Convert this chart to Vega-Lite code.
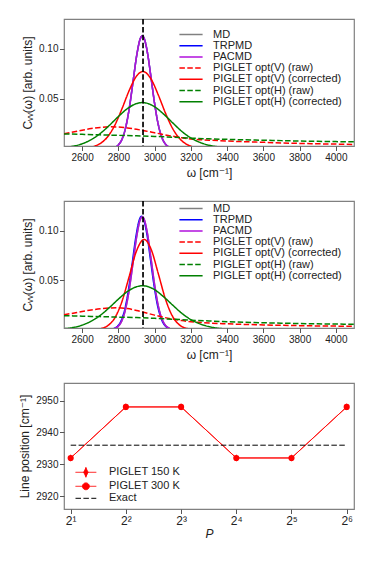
{
"$schema": "https://vega.github.io/schema/vega-lite/v6.json",
"background": "white",
"padding": {"left": 18, "top": 17, "right": 10, "bottom": 10},
"bounds": "flush",
"spacing": 55,
"resolve": {"scale": {"color": "independent", "strokeDash": "independent", "shape": "independent", "strokeWidth": "independent"}, "legend": {"color": "independent", "strokeDash": "independent", "shape": "independent", "strokeWidth": "independent"}},
"config": {
  "font": "Liberation Sans",
  "view": {"stroke": "#808080", "strokeWidth": 1.2},
  "axis": {"grid": false, "domain": false, "tickColor": "#555555", "tickSize": 4.5, "tickWidth": 1, "labelFontSize": 10, "labelColor": "#222222", "titleColor": "#222222", "titleFontSize": 12, "titleFontWeight": "normal", "labelPadding": 1.5, "titlePadding": 4, "labelFont": "Liberation Sans", "titleFont": "Liberation Sans, DejaVu Sans, sans-serif"},
  "legend": {"labelColor": "#222222", "labelFont": "Liberation Sans", "padding": 0}
},
"datasets": {
 "s150": [
  {"s":"MD","w":2760,"c":0.0003},{"s":"MD","w":2780,"c":0.0011},{"s":"MD","w":2800,"c":0.0035},{"s":"MD","w":2820,"c":0.0092},{"s":"MD","w":2840,"c":0.0208},{"s":"MD","w":2860,"c":0.0401},{"s":"MD","w":2880,"c":0.0658},{"s":"MD","w":2900,"c":0.0921},{"s":"MD","w":2920,"c":0.1098},{"s":"MD","w":2932,"c":0.113},{"s":"MD","w":2940,"c":0.1115},{"s":"MD","w":2960,"c":0.0966},{"s":"MD","w":2980,"c":0.0713},{"s":"MD","w":3000,"c":0.0449},{"s":"MD","w":3020,"c":0.024},{"s":"MD","w":3040,"c":0.011},{"s":"MD","w":3060,"c":0.0043},{"s":"MD","w":3080,"c":0.0014},{"s":"MD","w":3100,"c":0.0004},
  {"s":"TRPMD","w":2760,"c":0.0003},{"s":"TRPMD","w":2780,"c":0.0011},{"s":"TRPMD","w":2800,"c":0.0035},{"s":"TRPMD","w":2820,"c":0.0092},{"s":"TRPMD","w":2840,"c":0.0208},{"s":"TRPMD","w":2860,"c":0.0401},{"s":"TRPMD","w":2880,"c":0.0658},{"s":"TRPMD","w":2900,"c":0.0921},{"s":"TRPMD","w":2920,"c":0.1098},{"s":"TRPMD","w":2932,"c":0.113},{"s":"TRPMD","w":2940,"c":0.1115},{"s":"TRPMD","w":2960,"c":0.0966},{"s":"TRPMD","w":2980,"c":0.0713},{"s":"TRPMD","w":3000,"c":0.0449},{"s":"TRPMD","w":3020,"c":0.024},{"s":"TRPMD","w":3040,"c":0.011},{"s":"TRPMD","w":3060,"c":0.0043},{"s":"TRPMD","w":3080,"c":0.0014},{"s":"TRPMD","w":3100,"c":0.0004},
  {"s":"PACMD","w":2760,"c":0.0003},{"s":"PACMD","w":2780,"c":0.0011},{"s":"PACMD","w":2800,"c":0.0035},{"s":"PACMD","w":2820,"c":0.0092},{"s":"PACMD","w":2840,"c":0.0208},{"s":"PACMD","w":2860,"c":0.0401},{"s":"PACMD","w":2880,"c":0.0658},{"s":"PACMD","w":2900,"c":0.0921},{"s":"PACMD","w":2920,"c":0.1098},{"s":"PACMD","w":2932,"c":0.113},{"s":"PACMD","w":2940,"c":0.1115},{"s":"PACMD","w":2960,"c":0.0966},{"s":"PACMD","w":2980,"c":0.0713},{"s":"PACMD","w":3000,"c":0.0449},{"s":"PACMD","w":3020,"c":0.024},{"s":"PACMD","w":3040,"c":0.011},{"s":"PACMD","w":3060,"c":0.0043},{"s":"PACMD","w":3080,"c":0.0014},{"s":"PACMD","w":3100,"c":0.0004},
  {"s":"PIGLET opt(V) (raw)","w":2500,"c":0.0148},{"s":"PIGLET opt(V) (raw)","w":2550,"c":0.0165},{"s":"PIGLET opt(V) (raw)","w":2600,"c":0.0183},{"s":"PIGLET opt(V) (raw)","w":2650,"c":0.0199},{"s":"PIGLET opt(V) (raw)","w":2700,"c":0.0211},{"s":"PIGLET opt(V) (raw)","w":2750,"c":0.0217},{"s":"PIGLET opt(V) (raw)","w":2800,"c":0.0215},{"s":"PIGLET opt(V) (raw)","w":2850,"c":0.0206},{"s":"PIGLET opt(V) (raw)","w":2900,"c":0.0192},{"s":"PIGLET opt(V) (raw)","w":2950,"c":0.0175},{"s":"PIGLET opt(V) (raw)","w":3000,"c":0.0157},{"s":"PIGLET opt(V) (raw)","w":3050,"c":0.0139},{"s":"PIGLET opt(V) (raw)","w":3100,"c":0.0122},{"s":"PIGLET opt(V) (raw)","w":3150,"c":0.0107},{"s":"PIGLET opt(V) (raw)","w":3200,"c":0.0095},{"s":"PIGLET opt(V) (raw)","w":3300,"c":0.0083},{"s":"PIGLET opt(V) (raw)","w":3400,"c":0.0074},{"s":"PIGLET opt(V) (raw)","w":3500,"c":0.0067},{"s":"PIGLET opt(V) (raw)","w":3600,"c":0.0061},{"s":"PIGLET opt(V) (raw)","w":3700,"c":0.0055},{"s":"PIGLET opt(V) (raw)","w":3800,"c":0.005},{"s":"PIGLET opt(V) (raw)","w":3900,"c":0.0046},{"s":"PIGLET opt(V) (raw)","w":4000,"c":0.0043},{"s":"PIGLET opt(V) (raw)","w":4100,"c":0.004},
  {"s":"PIGLET opt(V) (corrected)","w":2620,"c":0.0005},{"s":"PIGLET opt(V) (corrected)","w":2660,"c":0.0018},{"s":"PIGLET opt(V) (corrected)","w":2700,"c":0.0049},{"s":"PIGLET opt(V) (corrected)","w":2740,"c":0.0115},{"s":"PIGLET opt(V) (corrected)","w":2780,"c":0.0232},{"s":"PIGLET opt(V) (corrected)","w":2820,"c":0.0399},{"s":"PIGLET opt(V) (corrected)","w":2860,"c":0.0583},{"s":"PIGLET opt(V) (corrected)","w":2900,"c":0.0726},{"s":"PIGLET opt(V) (corrected)","w":2935,"c":0.0772},{"s":"PIGLET opt(V) (corrected)","w":2980,"c":0.0698},{"s":"PIGLET opt(V) (corrected)","w":3020,"c":0.0538},{"s":"PIGLET opt(V) (corrected)","w":3060,"c":0.0354},{"s":"PIGLET opt(V) (corrected)","w":3100,"c":0.0198},{"s":"PIGLET opt(V) (corrected)","w":3140,"c":0.0094},{"s":"PIGLET opt(V) (corrected)","w":3180,"c":0.0038},{"s":"PIGLET opt(V) (corrected)","w":3220,"c":0.0013},{"s":"PIGLET opt(V) (corrected)","w":3260,"c":0.0004},
  {"s":"PIGLET opt(H) (raw)","w":2500,"c":0.0145},{"s":"PIGLET opt(H) (raw)","w":2600,"c":0.0141},{"s":"PIGLET opt(H) (raw)","w":2700,"c":0.0136},{"s":"PIGLET opt(H) (raw)","w":2800,"c":0.0131},{"s":"PIGLET opt(H) (raw)","w":2900,"c":0.0126},{"s":"PIGLET opt(H) (raw)","w":3000,"c":0.012},{"s":"PIGLET opt(H) (raw)","w":3100,"c":0.0112},{"s":"PIGLET opt(H) (raw)","w":3200,"c":0.0103},{"s":"PIGLET opt(H) (raw)","w":3300,"c":0.0096},{"s":"PIGLET opt(H) (raw)","w":3400,"c":0.0091},{"s":"PIGLET opt(H) (raw)","w":3500,"c":0.0086},{"s":"PIGLET opt(H) (raw)","w":3600,"c":0.0082},{"s":"PIGLET opt(H) (raw)","w":3700,"c":0.0078},{"s":"PIGLET opt(H) (raw)","w":3800,"c":0.0074},{"s":"PIGLET opt(H) (raw)","w":3900,"c":0.0071},{"s":"PIGLET opt(H) (raw)","w":4000,"c":0.0068},{"s":"PIGLET opt(H) (raw)","w":4100,"c":0.0066},
  {"s":"PIGLET opt(H) (corrected)","w":2500,"c":0.001},{"s":"PIGLET opt(H) (corrected)","w":2550,"c":0.0022},{"s":"PIGLET opt(H) (corrected)","w":2600,"c":0.0046},{"s":"PIGLET opt(H) (corrected)","w":2650,"c":0.0088},{"s":"PIGLET opt(H) (corrected)","w":2700,"c":0.015},{"s":"PIGLET opt(H) (corrected)","w":2750,"c":0.0231},{"s":"PIGLET opt(H) (corrected)","w":2800,"c":0.032},{"s":"PIGLET opt(H) (corrected)","w":2850,"c":0.04},{"s":"PIGLET opt(H) (corrected)","w":2900,"c":0.045},{"s":"PIGLET opt(H) (corrected)","w":2932,"c":0.046},{"s":"PIGLET opt(H) (corrected)","w":2950,"c":0.0457},{"s":"PIGLET opt(H) (corrected)","w":3000,"c":0.0418},{"s":"PIGLET opt(H) (corrected)","w":3050,"c":0.0344},{"s":"PIGLET opt(H) (corrected)","w":3100,"c":0.0256},{"s":"PIGLET opt(H) (corrected)","w":3150,"c":0.0171},{"s":"PIGLET opt(H) (corrected)","w":3200,"c":0.0105},{"s":"PIGLET opt(H) (corrected)","w":3250,"c":0.006},{"s":"PIGLET opt(H) (corrected)","w":3300,"c":0.0032},{"s":"PIGLET opt(H) (corrected)","w":3350,"c":0.0016},{"s":"PIGLET opt(H) (corrected)","w":3400,"c":0.0007}
 ],
 "s300": [
  {"s":"MD","w":2760,"c":0.0003},{"s":"MD","w":2780,"c":0.0011},{"s":"MD","w":2800,"c":0.0035},{"s":"MD","w":2820,"c":0.0093},{"s":"MD","w":2840,"c":0.021},{"s":"MD","w":2860,"c":0.0405},{"s":"MD","w":2880,"c":0.0664},{"s":"MD","w":2900,"c":0.0929},{"s":"MD","w":2920,"c":0.1108},{"s":"MD","w":2932,"c":0.114},{"s":"MD","w":2940,"c":0.1125},{"s":"MD","w":2960,"c":0.0975},{"s":"MD","w":2980,"c":0.0719},{"s":"MD","w":3000,"c":0.0453},{"s":"MD","w":3020,"c":0.0242},{"s":"MD","w":3040,"c":0.0111},{"s":"MD","w":3060,"c":0.0043},{"s":"MD","w":3080,"c":0.0014},{"s":"MD","w":3100,"c":0.0004},
  {"s":"TRPMD","w":2756,"c":0.0003},{"s":"TRPMD","w":2776,"c":0.0011},{"s":"TRPMD","w":2796,"c":0.0035},{"s":"TRPMD","w":2816,"c":0.0093},{"s":"TRPMD","w":2836,"c":0.021},{"s":"TRPMD","w":2856,"c":0.0406},{"s":"TRPMD","w":2876,"c":0.0666},{"s":"TRPMD","w":2896,"c":0.0932},{"s":"TRPMD","w":2916,"c":0.1112},{"s":"TRPMD","w":2928,"c":0.1146},{"s":"TRPMD","w":2936,"c":0.113},{"s":"TRPMD","w":2956,"c":0.0979},{"s":"TRPMD","w":2976,"c":0.0722},{"s":"TRPMD","w":2996,"c":0.0455},{"s":"TRPMD","w":3016,"c":0.0243},{"s":"TRPMD","w":3036,"c":0.0111},{"s":"TRPMD","w":3056,"c":0.0043},{"s":"TRPMD","w":3076,"c":0.0014},{"s":"TRPMD","w":3096,"c":0.0004},
  {"s":"PACMD","w":2760,"c":0.0003},{"s":"PACMD","w":2780,"c":0.0011},{"s":"PACMD","w":2800,"c":0.0035},{"s":"PACMD","w":2820,"c":0.0093},{"s":"PACMD","w":2840,"c":0.021},{"s":"PACMD","w":2860,"c":0.0405},{"s":"PACMD","w":2880,"c":0.0664},{"s":"PACMD","w":2900,"c":0.0929},{"s":"PACMD","w":2920,"c":0.1108},{"s":"PACMD","w":2932,"c":0.114},{"s":"PACMD","w":2940,"c":0.1125},{"s":"PACMD","w":2960,"c":0.0975},{"s":"PACMD","w":2980,"c":0.0719},{"s":"PACMD","w":3000,"c":0.0453},{"s":"PACMD","w":3020,"c":0.0242},{"s":"PACMD","w":3040,"c":0.0111},{"s":"PACMD","w":3060,"c":0.0043},{"s":"PACMD","w":3080,"c":0.0014},{"s":"PACMD","w":3100,"c":0.0004},
  {"s":"PIGLET opt(V) (raw)","w":2500,"c":0.015},{"s":"PIGLET opt(V) (raw)","w":2550,"c":0.0166},{"s":"PIGLET opt(V) (raw)","w":2600,"c":0.0183},{"s":"PIGLET opt(V) (raw)","w":2650,"c":0.0198},{"s":"PIGLET opt(V) (raw)","w":2700,"c":0.021},{"s":"PIGLET opt(V) (raw)","w":2750,"c":0.0218},{"s":"PIGLET opt(V) (raw)","w":2800,"c":0.022},{"s":"PIGLET opt(V) (raw)","w":2850,"c":0.0212},{"s":"PIGLET opt(V) (raw)","w":2900,"c":0.0194},{"s":"PIGLET opt(V) (raw)","w":2950,"c":0.017},{"s":"PIGLET opt(V) (raw)","w":3000,"c":0.0146},{"s":"PIGLET opt(V) (raw)","w":3050,"c":0.0124},{"s":"PIGLET opt(V) (raw)","w":3100,"c":0.0106},{"s":"PIGLET opt(V) (raw)","w":3150,"c":0.0091},{"s":"PIGLET opt(V) (raw)","w":3200,"c":0.008},{"s":"PIGLET opt(V) (raw)","w":3300,"c":0.0066},{"s":"PIGLET opt(V) (raw)","w":3400,"c":0.0058},{"s":"PIGLET opt(V) (raw)","w":3500,"c":0.0052},{"s":"PIGLET opt(V) (raw)","w":3600,"c":0.0047},{"s":"PIGLET opt(V) (raw)","w":3700,"c":0.0043},{"s":"PIGLET opt(V) (raw)","w":3800,"c":0.004},{"s":"PIGLET opt(V) (raw)","w":3900,"c":0.0037},{"s":"PIGLET opt(V) (raw)","w":4000,"c":0.0035},{"s":"PIGLET opt(V) (raw)","w":4100,"c":0.0033},
  {"s":"PIGLET opt(V) (corrected)","w":2700,"c":0.0009},{"s":"PIGLET opt(V) (corrected)","w":2740,"c":0.0038},{"s":"PIGLET opt(V) (corrected)","w":2780,"c":0.0117},{"s":"PIGLET opt(V) (corrected)","w":2820,"c":0.0285},{"s":"PIGLET opt(V) (corrected)","w":2860,"c":0.0539},{"s":"PIGLET opt(V) (corrected)","w":2900,"c":0.0795},{"s":"PIGLET opt(V) (corrected)","w":2942,"c":0.0912},{"s":"PIGLET opt(V) (corrected)","w":2980,"c":0.0815},{"s":"PIGLET opt(V) (corrected)","w":3020,"c":0.0567},{"s":"PIGLET opt(V) (corrected)","w":3060,"c":0.0307},{"s":"PIGLET opt(V) (corrected)","w":3100,"c":0.013},{"s":"PIGLET opt(V) (corrected)","w":3140,"c":0.0043},{"s":"PIGLET opt(V) (corrected)","w":3180,"c":0.0011},{"s":"PIGLET opt(V) (corrected)","w":3220,"c":0.0002},
  {"s":"PIGLET opt(H) (raw)","w":2500,"c":0.0141},{"s":"PIGLET opt(H) (raw)","w":2600,"c":0.0136},{"s":"PIGLET opt(H) (raw)","w":2700,"c":0.0131},{"s":"PIGLET opt(H) (raw)","w":2800,"c":0.0126},{"s":"PIGLET opt(H) (raw)","w":2900,"c":0.0121},{"s":"PIGLET opt(H) (raw)","w":3000,"c":0.0114},{"s":"PIGLET opt(H) (raw)","w":3100,"c":0.0105},{"s":"PIGLET opt(H) (raw)","w":3200,"c":0.0095},{"s":"PIGLET opt(H) (raw)","w":3300,"c":0.0087},{"s":"PIGLET opt(H) (raw)","w":3400,"c":0.008},{"s":"PIGLET opt(H) (raw)","w":3500,"c":0.0074},{"s":"PIGLET opt(H) (raw)","w":3600,"c":0.0069},{"s":"PIGLET opt(H) (raw)","w":3700,"c":0.0065},{"s":"PIGLET opt(H) (raw)","w":3800,"c":0.0061},{"s":"PIGLET opt(H) (raw)","w":3900,"c":0.0058},{"s":"PIGLET opt(H) (raw)","w":4000,"c":0.0056},{"s":"PIGLET opt(H) (raw)","w":4100,"c":0.0054},
  {"s":"PIGLET opt(H) (corrected)","w":2500,"c":0.0009},{"s":"PIGLET opt(H) (corrected)","w":2550,"c":0.0021},{"s":"PIGLET opt(H) (corrected)","w":2600,"c":0.0045},{"s":"PIGLET opt(H) (corrected)","w":2650,"c":0.0085},{"s":"PIGLET opt(H) (corrected)","w":2700,"c":0.0144},{"s":"PIGLET opt(H) (corrected)","w":2750,"c":0.0222},{"s":"PIGLET opt(H) (corrected)","w":2800,"c":0.0308},{"s":"PIGLET opt(H) (corrected)","w":2850,"c":0.0385},{"s":"PIGLET opt(H) (corrected)","w":2900,"c":0.0433},{"s":"PIGLET opt(H) (corrected)","w":2935,"c":0.0443},{"s":"PIGLET opt(H) (corrected)","w":2950,"c":0.044},{"s":"PIGLET opt(H) (corrected)","w":3000,"c":0.0403},{"s":"PIGLET opt(H) (corrected)","w":3050,"c":0.0331},{"s":"PIGLET opt(H) (corrected)","w":3100,"c":0.0247},{"s":"PIGLET opt(H) (corrected)","w":3150,"c":0.0165},{"s":"PIGLET opt(H) (corrected)","w":3200,"c":0.0101},{"s":"PIGLET opt(H) (corrected)","w":3250,"c":0.0058},{"s":"PIGLET opt(H) (corrected)","w":3300,"c":0.003},{"s":"PIGLET opt(H) (corrected)","w":3350,"c":0.0014},{"s":"PIGLET opt(H) (corrected)","w":3400,"c":0.0006}
 ],
 "lp": [
  {"m":"PIGLET 150 K","P":2,"pos":2932},{"m":"PIGLET 150 K","P":4,"pos":2948},{"m":"PIGLET 150 K","P":8,"pos":2948},{"m":"PIGLET 150 K","P":16,"pos":2932},{"m":"PIGLET 150 K","P":32,"pos":2932},{"m":"PIGLET 150 K","P":64,"pos":2948},
  {"m":"PIGLET 300 K","P":2,"pos":2932},{"m":"PIGLET 300 K","P":4,"pos":2948},{"m":"PIGLET 300 K","P":8,"pos":2948},{"m":"PIGLET 300 K","P":16,"pos":2932},{"m":"PIGLET 300 K","P":32,"pos":2932},{"m":"PIGLET 300 K","P":64,"pos":2948},
  {"m":"Exact","P":2,"pos":2936},{"m":"Exact","P":64,"pos":2936}
 ]
},
"vconcat": [
 {
  "width": 290, "height": 127,
  "data": {"name": "s150"},
  "encoding": {
   "x": {"field": "w", "type": "quantitative", "scale": {"domain": [2500, 4100], "nice": false, "zero": false}, "axis": {"values": [2600, 2800, 3000, 3200, 3400, 3600, 3800, 4000], "format": "d", "title": "ω  [cm⁻¹]", "titlePadding": 5}},
   "y": {"field": "c", "type": "quantitative", "scale": {"domain": [0.0024, 0.13], "nice": false, "zero": false}, "axis": {"values": [0.05, 0.1], "format": ".2f", "title": "Cᵥᵥ(ω) [arb. units]"}},
   "color": {"field": "s", "type": "nominal", "sort": null, "scale": {"domain": ["MD", "TRPMD", "PACMD", "PIGLET opt(V) (raw)", "PIGLET opt(V) (corrected)", "PIGLET opt(H) (raw)", "PIGLET opt(H) (corrected)"], "range": ["#808080", "#0000ff", "#b010dc", "#ff0000", "#ff0000", "#008000", "#008000"]},
    "legend": {"orient": "none", "legendX": 121.5, "legendY": 10, "title": null, "symbolType": "M-2.9,0H2.9", "symbolSize": 64, "symbolStrokeWidth": 1.5, "labelFontSize": 11, "labelOffset": 16.5, "rowPadding": -0.8}},
   "strokeDash": {"field": "s", "type": "nominal", "sort": null, "scale": {"domain": ["MD", "TRPMD", "PACMD", "PIGLET opt(V) (raw)", "PIGLET opt(V) (corrected)", "PIGLET opt(H) (raw)", "PIGLET opt(H) (corrected)"], "range": [[1, 0], [1, 0], [1, 0], [5.5, 2.4], [1, 0], [5.5, 2.4], [1, 0]]},
    "legend": {"orient": "none", "legendX": 121.5, "legendY": 10, "title": null, "symbolType": "M-2.9,0H2.9", "symbolSize": 64, "symbolStrokeWidth": 1.5, "labelFontSize": 11, "labelOffset": 16.5, "rowPadding": -0.8}}
  },
  "layer": [
   {
    "transform": [{"filter": "datum.s == 'TRPMD'"}],
    "mark": {"type": "line", "strokeWidth": 1.5, "clip": true, "interpolate": "monotone"}
   },
   {
    "transform": [{"filter": "datum.s != 'TRPMD'"}],
    "mark": {"type": "line", "strokeWidth": 1.5, "clip": true, "interpolate": "monotone"}
   },
   {
    "data": {"values": [{"exact": 2936}]},
    "mark": {"type": "rule", "color": "black", "strokeWidth": 1.7, "strokeDash": [5.5, 2.4]},
    "encoding": {"x": {"field": "exact", "type": "quantitative"}, "y": null, "color": null, "strokeDash": null}
   },
   {
    "data": {"values": [{"label": "150K"}]},
    "mark": {"type": "text", "fontSize": 12.5, "align": "center", "baseline": "middle", "color": "#222222"},
    "encoding": {"x": {"datum": 3948}, "y": {"datum": 0.1143}, "text": {"field": "label"}, "color": null, "strokeDash": null}
   }
  ]
 },
 {
  "width": 290, "height": 127,
  "data": {"name": "s300"},
  "encoding": {
   "x": {"field": "w", "type": "quantitative", "scale": {"domain": [2500, 4100], "nice": false, "zero": false}, "axis": {"values": [2600, 2800, 3000, 3200, 3400, 3600, 3800, 4000], "format": "d", "title": "ω  [cm⁻¹]", "titlePadding": 5}},
   "y": {"field": "c", "type": "quantitative", "scale": {"domain": [0.0016, 0.13], "nice": false, "zero": false}, "axis": {"values": [0.05, 0.1], "format": ".2f", "title": "Cᵥᵥ(ω) [arb. units]"}},
   "color": {"field": "s", "type": "nominal", "sort": null, "scale": {"domain": ["MD", "TRPMD", "PACMD", "PIGLET opt(V) (raw)", "PIGLET opt(V) (corrected)", "PIGLET opt(H) (raw)", "PIGLET opt(H) (corrected)"], "range": ["#808080", "#0000ff", "#b010dc", "#ff0000", "#ff0000", "#008000", "#008000"]},
    "legend": {"orient": "none", "legendX": 121.5, "legendY": 2, "title": null, "symbolType": "M-2.9,0H2.9", "symbolSize": 64, "symbolStrokeWidth": 1.5, "labelFontSize": 11, "labelOffset": 16.5, "rowPadding": -0.8}},
   "strokeDash": {"field": "s", "type": "nominal", "sort": null, "scale": {"domain": ["MD", "TRPMD", "PACMD", "PIGLET opt(V) (raw)", "PIGLET opt(V) (corrected)", "PIGLET opt(H) (raw)", "PIGLET opt(H) (corrected)"], "range": [[1, 0], [1, 0], [1, 0], [5.5, 2.4], [1, 0], [5.5, 2.4], [1, 0]]},
    "legend": {"orient": "none", "legendX": 121.5, "legendY": 2, "title": null, "symbolType": "M-2.9,0H2.9", "symbolSize": 64, "symbolStrokeWidth": 1.5, "labelFontSize": 11, "labelOffset": 16.5, "rowPadding": -0.8}}
  },
  "layer": [
   {
    "transform": [{"filter": "datum.s == 'TRPMD'"}],
    "mark": {"type": "line", "strokeWidth": 1.5, "clip": true, "interpolate": "monotone"}
   },
   {
    "transform": [{"filter": "datum.s != 'TRPMD'"}],
    "mark": {"type": "line", "strokeWidth": 1.5, "clip": true, "interpolate": "monotone"}
   },
   {
    "data": {"values": [{"exact": 2936}]},
    "mark": {"type": "rule", "color": "black", "strokeWidth": 1.7, "strokeDash": [5.5, 2.4]},
    "encoding": {"x": {"field": "exact", "type": "quantitative"}, "y": null, "color": null, "strokeDash": null}
   },
   {
    "data": {"values": [{"label": "300K"}]},
    "mark": {"type": "text", "fontSize": 12.5, "align": "center", "baseline": "middle", "color": "#222222"},
    "encoding": {"x": {"datum": 3948}, "y": {"datum": 0.1142}, "text": {"field": "label"}, "color": null, "strokeDash": null}
   }
  ]
 },
 {
  "width": 290, "height": 126,
  "data": {"name": "lp"},
  "layer": [
   {
    "mark": {"type": "line", "clip": true},
    "encoding": {
     "x": {"field": "P", "type": "quantitative", "scale": {"type": "log", "base": 2, "domain": [1.839, 70.14], "nice": false}, "axis": {"values": [2, 4, 8, 16, 32, 64], "labelFontSize": 12, "labelExpr": "'2' + (datum.value == 2 ? '¹' : datum.value == 4 ? '²' : datum.value == 8 ? '³' : datum.value == 16 ? '⁴' : datum.value == 32 ? '⁵' : '⁶')", "title": "P", "titleFontStyle": "italic", "titlePadding": 2}},
     "y": {"field": "pos", "type": "quantitative", "scale": {"domain": [2916, 2955.5], "nice": false, "zero": false}, "axis": {"values": [2920, 2930, 2940, 2950], "format": "d", "title": "Line position  [cm⁻¹]"}},
     "color": {"field": "m", "type": "nominal", "sort": null, "scale": {"domain": ["PIGLET 150 K", "PIGLET 300 K", "Exact"], "range": ["#ff0000", "#ff0000", "#000000"]},
      "legend": {"orient": "none", "legendX": 16.4, "legendY": 83.8, "title": null, "symbolSize": 64, "symbolStrokeWidth": 1.3, "labelFontSize": 11, "labelOffset": 17.6, "rowPadding": 0,
       "encode": {"symbols": {"update": {
        "shape": {"signal": "datum.value == 'Exact' ? 'M-2.6,0H2.6' : (datum.value == 'PIGLET 150 K' ? 'M-2.6,0H2.6M0,-1.3V1.3M0,-1.1L0.55,0L0,1.1L-0.55,0Z' : 'M-2.6,0H2.6M-0.85,0A0.85,0.85,0,1,1,0.85,0A0.85,0.85,0,1,1,-0.85,0Z')"},
        "fill": {"signal": "datum.value == 'Exact' ? 'transparent' : '#ff0000'"}
       }}}}},
     "strokeDash": {"field": "m", "type": "nominal", "sort": null, "scale": {"domain": ["PIGLET 150 K", "PIGLET 300 K", "Exact"], "range": [[1, 0], [1, 0], [5.5, 2.4]]}, "legend": null},
     "strokeWidth": {"field": "m", "type": "nominal", "sort": null, "scale": {"domain": ["PIGLET 150 K", "PIGLET 300 K", "Exact"], "range": [1, 1, 1.8]}, "legend": null}
    }
   },
   {
    "transform": [{"filter": "datum.m != 'Exact'"}],
    "mark": {"type": "point", "filled": true, "opacity": 1, "size": 38, "color": "#ff0000"},
    "encoding": {
     "x": {"field": "P", "type": "quantitative"},
     "y": {"field": "pos", "type": "quantitative"},
     "shape": {"field": "m", "type": "nominal", "sort": null, "scale": {"domain": ["PIGLET 150 K", "PIGLET 300 K"], "range": ["M0,-1.2L0.6,0L0,1.2L-0.6,0Z", "circle"]}, "legend": null}
    }
   }
  ]
 }
]
}
